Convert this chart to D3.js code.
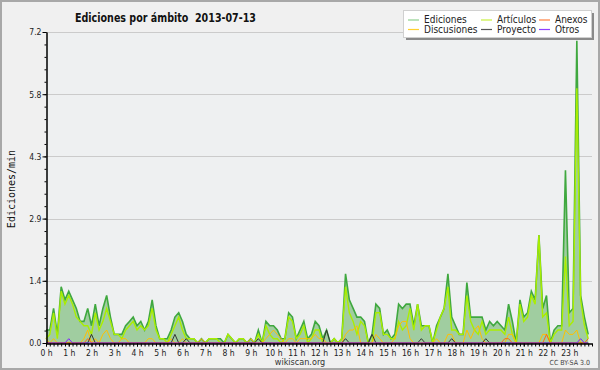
<!DOCTYPE html>
<html><head><meta charset="utf-8">
<script src="https://cdn.jsdelivr.net/npm/d3@7"></script>
<style>body{margin:0;background:#f0f0f0}svg{display:block}</style>
</head><body><svg id="c" width="600" height="370"></svg>
<script>
// ---- data (edits per minute, 10-minute steps, 2013-07-13) ----
const title = "Ediciones por ámbito  2013-07-13";
const yTitle = "Ediciones/min";
const stepMinutes = 10;
const ediciones = [
0.3,0.3,0.8,0.2,1.3,1.0,1.2,1.0,0.8,0.5,
0.5,0.8,0.4,0.9,0.4,0.8,1.1,0.6,0.2,0.2,
0.2,0.4,0.5,0.6,0.4,0.5,0.3,0.5,1.0,0.4,
0.1,0.1,0.1,0.3,0.6,0.7,0.5,0.2,0.1,0.1,
0.0,0.1,0.0,0.1,0.1,0.1,0.1,0.0,0.2,0.1,
0.0,0.1,0.1,0.0,0.1,0.0,0.3,0.0,0.5,0.4,
0.4,0.3,0.1,0.1,0.7,0.6,0.1,0.3,0.5,0.1,
0.2,0.5,0.4,0.1,0.3,0.0,0.1,0.0,0.1,1.6,
1.0,0.8,0.6,0.6,0.5,0.0,0.2,0.9,0.8,0.2,
0.3,0.1,0.2,0.9,0.8,0.9,0.9,0.4,0.9,0.4,
0.4,0.4,0.0,0.4,0.6,0.8,1.6,0.6,0.4,0.2,
0.2,1.4,0.6,0.6,0.6,0.6,0.3,0.5,0.4,0.5,
0.4,0.3,0.9,0.5,0.0,1.0,0.6,0.7,1.2,1.0,
2.5,0.8,1.1,0.0,0.3,0.4,0.4,4.0,0.7,0.8,
7.0,1.1,0.6,0.2];
const articulos = [
0.1,0.2,0.7,0.1,1.2,0.9,1.1,0.9,0.6,0.5,
0.4,0.4,0.2,0.7,0.3,0.5,0.8,0.5,0.2,0.2,
0.1,0.3,0.4,0.5,0.3,0.4,0.3,0.4,0.8,0.3,
0.1,0.1,0.0,0.2,0.4,0.6,0.3,0.1,0.1,0.1,
0.0,0.0,0.0,0.1,0.1,0.1,0.0,0.0,0.2,0.1,
0.0,0.1,0.1,0.0,0.0,0.0,0.2,0.0,0.4,0.2,
0.1,0.1,0.0,0.1,0.6,0.5,0.1,0.2,0.4,0.0,
0.1,0.3,0.3,0.0,0.0,0.0,0.1,0.0,0.1,1.3,
0.7,0.5,0.2,0.5,0.4,0.0,0.0,0.7,0.7,0.2,
0.2,0.1,0.1,0.5,0.3,0.4,0.8,0.3,0.9,0.3,
0.4,0.4,0.0,0.3,0.6,0.8,1.3,0.3,0.3,0.2,
0.2,1.1,0.5,0.3,0.2,0.5,0.2,0.3,0.3,0.3,
0.3,0.2,0.6,0.2,0.0,0.9,0.5,0.6,1.1,0.9,
2.5,0.6,0.7,0.0,0.2,0.3,0.3,2.0,0.4,0.5,
5.9,1.0,0.4,0.1];
const discusiones = [
0.1,0,0.1,0,0,0,0,0,0,0,
0.1,0.3,0,0.1,0,0.2,0.3,0.1,0,0,
0.1,0.1,0,0,0,0,0,0.1,0.1,0,
0,0,0,0.1,0,0,0.1,0,0,0,
0,0.1,0,0,0,0,0,0,0,0,
0,0,0,0,0.1,0,0,0,0.1,0.2,
0.3,0.2,0.1,0,0.1,0.1,0,0.1,0.1,0.1,
0.1,0.2,0.1,0.1,0,0,0,0,0,0.2,
0.3,0.3,0.4,0,0,0,0,0.2,0.1,0,
0,0,0.1,0.4,0.5,0.5,0.1,0,0,0,
0,0,0,0.1,0,0,0.2,0.2,0,0,
0,0.3,0.1,0.3,0.4,0.1,0,0,0,0,
0,0,0.2,0.2,0,0,0,0,0,0,
0,0.2,0.2,0,0,0,0,0.3,0.2,0.2,
0.3,0,0,0];
const proyecto = [
0,0,0,0,0,0,0,0,0,0,
0,0,0.2,0,0,0,0,0,0,0,
0,0,0,0,0,0,0,0,0,0,
0,0,0,0,0.2,0,0,0.1,0,0,
0,0,0,0,0,0,0,0,0,0,
0,0,0,0,0,0,0.1,0,0,0,
0,0,0,0,0,0,0,0,0,0,
0,0,0,0,0.3,0,0,0,0,0.1,
0,0,0,0,0,0,0.2,0,0,0,
0,0,0,0,0,0,0,0,0,0.1,
0,0,0,0,0,0,0,0.1,0,0,
0,0,0,0,0,0,0.1,0,0,0,
0,0,0,0,0,0,0,0,0,0,
0,0,0,0,0,0,0,0,0,0,
0,0,0,0];
const anexos = [
0,0,0,0,0,0,0,0,0,0,
0,0.1,0,0,0,0,0,0,0,0,
0,0,0,0,0,0,0,0,0,0,
0,0,0,0,0,0,0,0,0,0,
0,0,0,0,0,0,0,0,0,0,
0,0,0,0,0,0,0,0,0,0,
0,0,0,0,0,0,0,0,0,0,
0,0,0,0,0,0,0,0,0,0,
0,0,0,0,0,0,0,0,0,0,
0,0,0,0,0,0,0,0,0,0,
0,0,0,0,0,0,0,0,0,0,
0,0,0,0,0,0,0,0,0,0,
0,0.1,0.1,0,0,0,0,0,0,0,
0,0,0.2,0,0,0,0,0,0,0,
0,0,0,0.1];
const otros = [
0,0,0,0,0,0,0.1,0,0,0,
0,0,0,0,0,0,0,0,0,0,
0,0,0,0,0,0,0,0,0,0,
0,0,0,0,0,0,0,0,0,0,
0,0,0,0,0,0,0,0,0,0,
0,0,0,0,0,0,0,0,0,0,
0,0,0,0,0,0,0,0,0,0,
0,0,0,0,0,0,0,0,0,0,
0,0,0,0,0,0,0,0,0,0,
0,0,0,0,0,0,0,0,0,0,
0,0,0,0,0,0,0,0,0,0,
0,0,0,0,0,0,0,0,0,0,
0,0,0,0,0,0,0,0,0,0,
0,0,0,0,0,0,0,0,0,0,
0,0.1,0,0];
const yTickValues = [0, 1.44, 2.88, 4.32, 5.76, 7.2];
const yTickLabels = ["0.0","1.4","2.9","4.3","5.8","7.2"];
const hourLabels = ["0 h","1 h","2 h","3 h","4 h","5 h","6 h","7 h","8 h","9 h","10 h","11 h",
  "12 h","13 h","14 h","15 h","16 h","17 h","18 h","19 h","20 h","21 h","22 h","23 h"];
const legendItems = [
  {name:"Ediciones", color:"#8fd08f"},{name:"Artículos", color:"#c8f040"},{name:"Anexos", color:"#ff8040"},
  {name:"Discusiones", color:"#ffd030"},{name:"Proyecto", color:"#555555"},{name:"Otros", color:"#9040ff"}];

// ---- layout ----
const L=46, R=592, T=32, B=343;
const svg=d3.select("#c");
svg.append("rect").attr("width",600).attr("height",370).attr("fill","#f0f0f0");
svg.append("rect").attr("x",1).attr("y",1).attr("width",598).attr("height",368)
  .attr("fill","none").attr("stroke","#a8a8a8").attr("stroke-width",2);

const x=d3.scaleLinear().domain([0,1440]).range([L,R]);
const y=d3.scaleLinear().domain([0,7.2]).range([B,T]);
const t=i=>i*stepMinutes;

svg.append("rect").attr("x",L).attr("y",T).attr("width",R-L).attr("height",B-T).attr("fill","#eef0f1");

// grid
svg.append("g").selectAll("line").data(yTickValues.slice(1)).join("line")
  .attr("x1",L).attr("x2",R).attr("y1",d=>Math.round(y(d))+0.5).attr("y2",d=>Math.round(y(d))+0.5)
  .attr("stroke","#cbcbcb").attr("stroke-width",1);

// area + lines
const area=d3.area().x((d,i)=>x(t(i))).y0(B).y1(d=>y(d));
svg.append("path").datum(ediciones).attr("d",area).attr("fill","#a0cda0");
const line=d3.line().x((d,i)=>x(t(i))).y(d=>y(d));
const series=[
  {v:ediciones,c:"#3fa83f",w:1.6},
  {v:articulos,c:"#aaee00",w:1.4},
  {v:discusiones,c:"#ffc000",w:1},
  {v:proyecto,c:"#333333",w:1},
  {v:anexos,c:"#ff6a10",w:1},
  {v:otros,c:"#8020ff",w:1}];
series.forEach(s=>svg.append("path").datum(s.v).attr("d",line).attr("fill","none")
  .attr("stroke",s.c).attr("stroke-width",s.w).attr("stroke-linejoin","miter"));

// axes
const fontAx="'DejaVu Sans Condensed','DejaVu Sans',sans-serif";
const yAxis=d3.axisLeft(y).tickValues(yTickValues).tickSize(4).tickSizeOuter(0)
  .tickFormat((d,i)=>yTickLabels[i]);
const yMinor=d3.axisLeft(y).tickValues(d3.range(0,7.21,0.288)).tickSize(2).tickSizeOuter(0).tickFormat("");
const gyM=svg.append("g").attr("transform",`translate(${L+0.5},0)`).call(yMinor);
const gy=svg.append("g").attr("transform",`translate(${L+0.5},0)`).call(yAxis);
const xAxis=d3.axisBottom(x).tickValues(d3.range(0,1440,60)).tickSize(3).tickSizeOuter(0)
  .tickFormat((d,i)=>hourLabels[i]);
const xMinor=d3.axisBottom(x).tickValues(d3.range(0,1441,10)).tickSize(3).tickSizeOuter(0).tickFormat("");
const gxM=svg.append("g").attr("transform",`translate(0,${B+0.5})`).call(xMinor);
const gx=svg.append("g").attr("transform",`translate(0,${B+0.5})`).call(xAxis);
[gy,gyM,gx,gxM].forEach(g=>{g.selectAll("path,line").attr("stroke","#000");
  g.selectAll("text").attr("font-family",fontAx).attr("font-size","8.5px").attr("fill","#222");});
gy.selectAll("text").attr("x",-5).attr("dy","0.35em");
gx.selectAll("text").attr("y",6).attr("dy","0.71em");

// titles
svg.append("text").attr("x",75).attr("y",22).text(title)
  .attr("xml:space","preserve").style("white-space","pre")
  .attr("textLength",181).attr("lengthAdjust","spacingAndGlyphs")
  .attr("font-family","'DejaVu Sans Condensed','DejaVu Sans',sans-serif").attr("font-weight","bold")
  .attr("font-size","12.5px").attr("fill","#111");
svg.append("text").attr("transform","translate(15,189) rotate(-90)").attr("text-anchor","middle")
  .text(yTitle).attr("font-family","'DejaVu Sans Mono',monospace").attr("font-size","10px").attr("fill","#111");
svg.append("text").attr("x",300).attr("y",365).attr("text-anchor","middle").text("wikiscan.org")
  .attr("font-family",fontAx).attr("font-size","9px").attr("fill","#333");
svg.append("text").attr("x",590).attr("y",365).attr("text-anchor","end").text("CC BY-SA 3.0")
  .attr("font-family",fontAx).attr("font-size","7px").attr("fill","#444");

// legend
const lg=svg.append("g");
lg.append("rect").attr("x",406).attr("y",13).attr("width",188).attr("height",27).attr("fill","#8a8a8a");
lg.append("rect").attr("x",403.5).attr("y",10.5).attr("width",188).attr("height",27)
  .attr("fill","#fff").attr("stroke","#d0d0d0");
const colX=[408,481,539], rowY=[19.5,29];
legendItems.forEach((d,i)=>{
  const cx=colX[i%3], cy=rowY[Math.floor(i/3)];
  lg.append("line").attr("x1",cx).attr("x2",cx+11).attr("y1",cy+0.5).attr("y2",cy+0.5)
    .attr("stroke",d.color).attr("stroke-width",1.2);
  lg.append("text").attr("x",cx+16).attr("y",cy+3.8).text(d.name)
    .attr("font-family",fontAx).attr("font-size","10px").attr("fill","#222");
});
</script></body></html>
